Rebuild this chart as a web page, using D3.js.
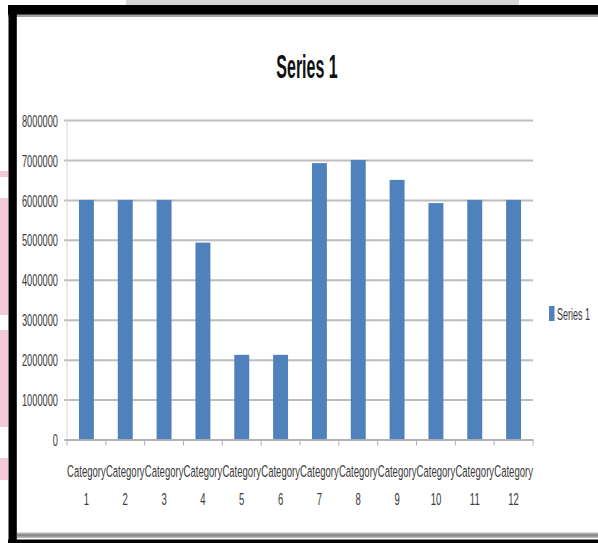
<!DOCTYPE html>
<html><head><meta charset="utf-8">
<script src="https://cdn.jsdelivr.net/npm/d3@7"></script>
<style>html,body{margin:0;padding:0;background:#fff;}svg{display:block;}</style>
</head><body>
<script>
const categories = ["Category 1","Category 2","Category 3","Category 4","Category 5","Category 6","Category 7","Category 8","Category 9","Category 10","Category 11","Category 12"];
const series1 = [6000000,6000000,6000000,4930000,2120000,2120000,6920000,7000000,6500000,5920000,6000000,6000000];
const yTicks = [0,1000000,2000000,3000000,4000000,5000000,6000000,7000000,8000000];
const seriesName = "Series 1";
const titleText = "Series 1";

const W = 598, H = 543;
const svg = d3.select("body").append("svg").attr("width", W).attr("height", H);
const font = "'Liberation Sans', Arial, sans-serif";

// background decorations (scan artefacts)
const pink = [[171,177],[198,315],[330,427],[458,480]];
svg.selectAll("rect.pink").data(pink).join("rect").attr("class","pink")
  .attr("x",0).attr("width",8).attr("y",d=>d[0]).attr("height",d=>d[1]-d[0]).attr("fill","#f3cad6");
svg.append("rect").attr("x",126).attr("y",0).attr("width",393).attr("height",5).attr("fill","#d6d6d6");

// frame
svg.append("rect").attr("x",8).attr("y",14).attr("width",W-8).attr("height",3).attr("fill","#a0a0a0");
svg.append("rect").attr("x",8).attr("y",5).attr("width",W-8).attr("height",9.5).attr("fill","#000");
svg.append("rect").attr("x",8.5).attr("y",5).attr("width",8.3).attr("height",H-5).attr("fill","#000");
svg.append("rect").attr("x",17).attr("y",532.5).attr("width",W-17).attr("height",5.5).attr("fill","#b4b4b4");
svg.append("rect").attr("x",17).attr("y",534).attr("width",W-17).attr("height",2.5).attr("fill","#8c8c8c");
svg.append("rect").attr("x",8).attr("y",539.5).attr("width",W-8).attr("height",4).attr("fill","#000");

const plot = {l:67, r:533, t:120, b:439.5};
const x = d3.scaleBand().domain(categories).range([plot.l, plot.r]).paddingInner(0.615).paddingOuter(0.3075);
const y = d3.scaleLinear().domain([0, 8000000]).range([plot.b, plot.t]);

// y axis with gridlines
const yAxis = svg.append("g").attr("transform", `translate(${plot.l-3},0)`)
  .call(d3.axisLeft(y).tickValues(yTicks).tickSize(-(plot.r - plot.l + 3)).tickFormat(d3.format("d")));
yAxis.select(".domain").remove();
yAxis.selectAll(".tick line").attr("stroke","#bdbdbd").attr("stroke-width",2);
yAxis.selectAll(".tick text")
  .attr("x",0).attr("dy","0.36em")
  .attr("text-anchor","end")
  .attr("transform","translate(-6,0) scale(0.545,1)")
  .attr("fill","#3a3a3a").style("font-family",font).style("font-size","17px");

// vertical axis line
svg.append("line").attr("x1",plot.l).attr("x2",plot.l).attr("y1",plot.t).attr("y2",plot.b)
  .attr("stroke","#d6d6d6").attr("stroke-width",1);

// bars
svg.selectAll("rect.bar").data(series1).join("rect").attr("class","bar")
  .attr("x",(d,i)=>x(categories[i])).attr("width",x.bandwidth())
  .attr("y",d=>y(d)).attr("height",d=>y(0)-y(d)).attr("fill","#4f81bd");

// x axis
const xAxis = svg.append("g").attr("transform",`translate(0,${plot.b})`)
  .call(d3.axisBottom(x).tickSize(0).tickFormat(""));
xAxis.select(".domain").attr("stroke","#b0b0b0").attr("stroke-width",1.5);
const step = x.step();
const bounds = categories.map(c => x(c) + x.bandwidth()/2 - step/2).concat([plot.r]);
svg.selectAll("line.xt").data(bounds).join("line").attr("class","xt")
  .attr("x1",d=>d).attr("x2",d=>d).attr("y1",plot.b).attr("y2",plot.b+6)
  .attr("stroke","#b0b0b0").attr("stroke-width",1);

const labels = svg.append("g").selectAll("g").data(categories).join("g")
  .attr("transform", c => `translate(${x(c)+x.bandwidth()/2},0)`);
labels.each(function(c){
  const parts = c.split(" ");
  const g = d3.select(this);
  g.append("text").attr("transform","translate(0,477) scale(0.56,1)").attr("text-anchor","middle")
    .attr("fill","#3a3a3a").style("font-family",font).style("font-size","17px").text(parts[0]);
  g.append("text").attr("transform","translate(0,505) scale(0.56,1)").attr("text-anchor","middle")
    .attr("fill","#3a3a3a").style("font-family",font).style("font-size","17px").text(parts[1]);
});

// title
svg.append("text").attr("transform",`translate(307,78) scale(0.47,1)`).attr("text-anchor","middle")
  .attr("fill","#111").style("font-family",font).style("font-weight","bold").style("font-size","34px").text(titleText);

// legend
const lg = svg.append("g");
lg.append("rect").attr("x",549).attr("y",306).attr("width",5.5).attr("height",15).attr("fill","#4f81bd");
lg.append("text").attr("transform","translate(557,320) scale(0.53,1)")
  .attr("fill","#3a3a3a").style("font-family",font).style("font-size","17px").text(seriesName);
</script>
</body></html>
